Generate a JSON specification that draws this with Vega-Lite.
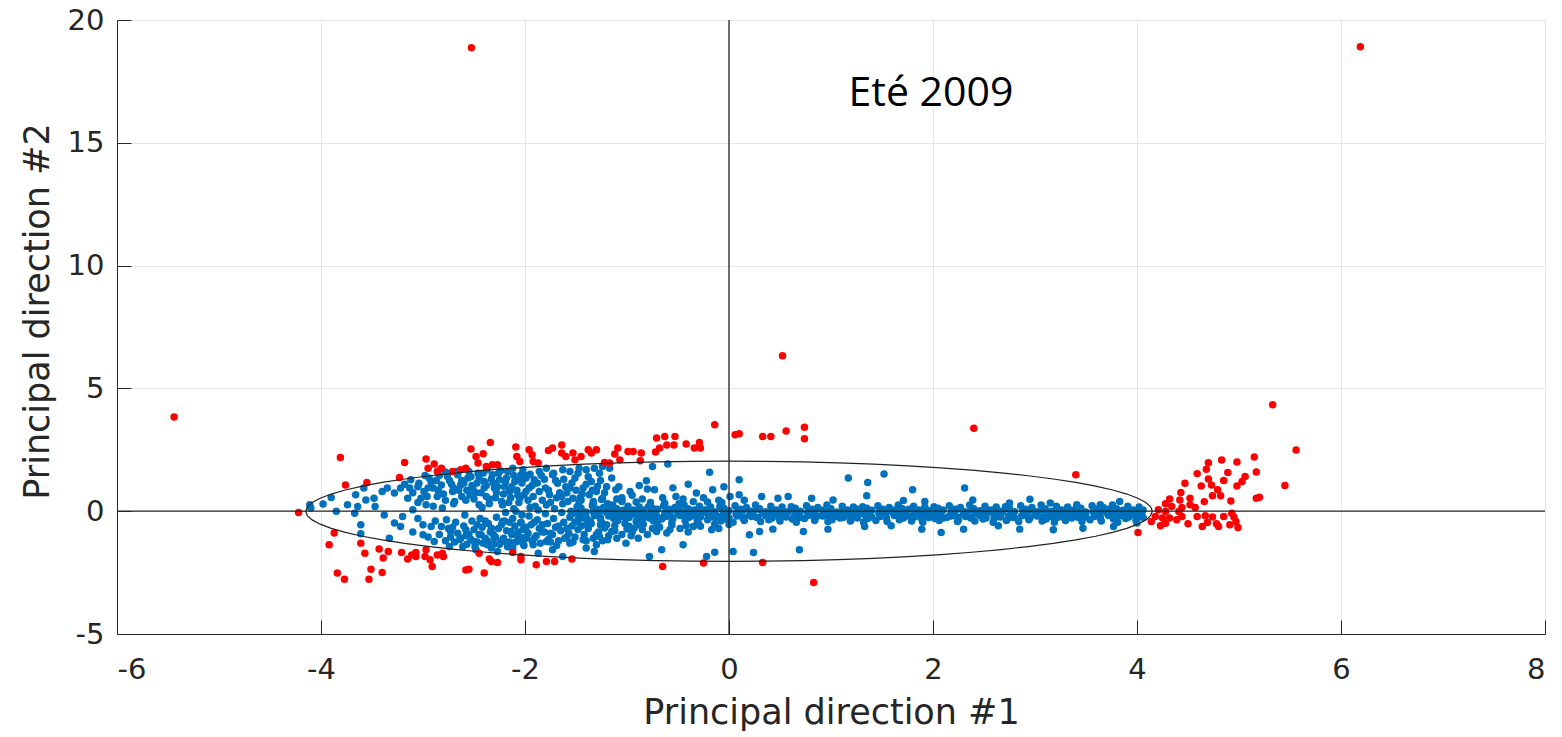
{
"$schema": "https://vega.github.io/schema/vega-lite/v6.json",
"width": 1428, "height": 614,
"autosize": "none",
"padding": {"left": 117, "top": 20, "right": 17, "bottom": 103},
"background": "white",
"config": {
 "view": {"stroke": "#262626", "strokeWidth": 1},
 "axis": {"labelFont": "DejaVu Sans", "labelFontSize": 29, "labelColor": "#262626", "titleFont": "DejaVu Sans", "titleFontSize": 35, "titleFontWeight": "normal", "titleColor": "#262626", "gridColor": "#e6e6e6", "gridWidth": 1, "domainColor": "#262626", "tickColor": "#262626", "tickSize": -14, "labelExpr": "replace(datum.label, '\u2212', '-')"}
},
"datasets": {
"blue": [
{"x":-4.11,"y":0.26},{"x":-4.10,"y":0.13},{"x":-3.98,"y":0.29},{"x":-3.90,"y":0.56},{"x":-3.85,"y":0.00},{"x":-3.74,"y":0.26},{"x":-3.67,"y":-0.08},{"x":-3.64,"y":0.19},{"x":-3.61,"y":-0.55},{"x":-3.61,"y":-0.92},{"x":-3.66,"y":0.67},{"x":-3.58,"y":0.94},{"x":-3.56,"y":0.46},{"x":-3.48,"y":0.53},{"x":-3.47,"y":0.19},{"x":-3.40,"y":0.80},{"x":-3.38,"y":-0.15},{"x":-3.33,"y":-1.10},{"x":-3.35,"y":0.94},{"x":-3.28,"y":0.74},{"x":-3.28,"y":-0.48},{"x":-3.22,"y":-0.62},{"x":-3.20,"y":-0.22},{"x":-3.22,"y":0.94},{"x":-3.15,"y":0.53},{"x":-3.13,"y":0.94},{"x":-3.12,"y":1.28},{"x":-3.04,"y":1.14},{"x":-3.10,"y":0.06},{"x":-3.02,"y":0.53},{"x":-2.99,"y":0.80},{"x":-2.97,"y":0.26},{"x":-3.00,"y":-0.55},{"x":-3.00,"y":-0.96},{"x":-2.92,"y":-0.62},{"x":-2.89,"y":-1.23},{"x":-2.94,"y":1.35},{"x":-2.90,"y":0.94},{"x":-2.86,"y":0.60},{"x":-2.82,"y":1.07},{"x":-2.82,"y":-0.62},{"x":-2.81,"y":0.13},{"x":-2.76,"y":1.41},{"x":-2.74,"y":-1.44},{"x":-2.73,"y":-0.83},{"x":-2.71,"y":0.80},{"x":-2.69,"y":0.40},{"x":-2.66,"y":1.48},{"x":-2.63,"y":1.07},{"x":-2.63,"y":-1.10},{"x":-2.61,"y":-1.44},{"x":-2.59,"y":-0.15},{"x":-2.58,"y":-0.76},{"x":-2.56,"y":1.35},{"x":-2.54,"y":0.67},{"x":-2.51,"y":0.94},{"x":-2.50,"y":-1.23},{"x":-2.48,"y":-1.57},{"x":-2.46,"y":1.55},{"x":-2.45,"y":0.26},{"x":-2.43,"y":-0.96},{"x":-2.40,"y":1.21},{"x":-2.38,"y":0.60},{"x":-2.37,"y":-1.37},{"x":-2.33,"y":-0.69},{"x":-2.32,"y":1.48},{"x":-2.30,"y":0.94},{"x":-2.30,"y":-1.10},{"x":-2.27,"y":-1.64},{"x":-2.25,"y":1.28},{"x":-2.23,"y":0.40},{"x":-2.22,"y":-0.42},{"x":-2.20,"y":-1.23},{"x":-2.17,"y":1.62},{"x":-2.15,"y":0.80},{"x":-2.14,"y":-0.83},{"x":-2.12,"y":-1.50},{"x":-2.10,"y":1.21},{"x":-2.09,"y":0.00},{"x":-2.07,"y":-1.03},{"x":-2.05,"y":0.53},{"x":-2.04,"y":1.48},{"x":-2.04,"y":-0.48},{"x":-2.02,"y":-1.30},
{"x":-2.02,"y":1.69},{"x":-1.99,"y":1.35},{"x":-1.91,"y":1.28},{"x":-1.86,"y":1.62},{"x":-1.79,"y":1.75},{"x":-1.73,"y":1.48},{"x":-1.68,"y":1.14},{"x":-1.63,"y":1.69},{"x":-1.56,"y":1.62},{"x":-1.51,"y":1.35},{"x":-1.47,"y":1.75},{"x":-1.40,"y":1.69},{"x":-1.35,"y":1.21},{"x":-1.32,"y":1.75},{"x":-1.27,"y":1.55},{"x":-1.24,"y":1.82},{"x":-1.29,"y":1.01},{"x":-1.17,"y":1.75},{"x":-1.11,"y":0.87},{"x":-0.97,"y":0.80},{"x":-0.88,"y":1.05},{"x":-0.81,"y":1.24},{"x":-0.75,"y":1.82},{"x":-0.73,"y":0.87},{"x":-0.60,"y":1.92},{"x":-0.52,"y":0.60},{"x":-0.32,"y":0.74},{"x":-0.19,"y":1.59},{"x":-0.16,"y":0.87},{"x":0.01,"y":0.60},{"x":0.10,"y":1.28},{"x":0.10,"y":0.67},
{"x":-1.86,"y":0.80},{"x":-1.76,"y":0.67},{"x":-1.64,"y":0.60},{"x":-1.56,"y":0.94},{"x":-1.53,"y":0.53},{"x":-1.43,"y":0.94},{"x":-1.37,"y":0.67},{"x":-1.30,"y":0.80},{"x":-1.24,"y":0.53},{"x":-2.01,"y":0.67},{"x":-1.96,"y":0.94},
{"x":-1.99,"y":-1.10},{"x":-1.92,"y":-1.37},{"x":-1.87,"y":-1.71},{"x":-1.79,"y":-1.23},{"x":-1.73,"y":-1.57},{"x":-1.63,"y":-1.84},{"x":-1.56,"y":-1.30},{"x":-1.43,"y":-1.16},{"x":-1.40,"y":-1.50},{"x":-1.32,"y":-1.64},{"x":-1.30,"y":-1.37},{"x":-1.27,"y":-1.03},{"x":-1.19,"y":-1.16},{"x":-1.15,"y":-0.83},{"x":-1.01,"y":-1.30},{"x":-0.89,"y":-1.10},{"x":-0.93,"y":-0.69},{"x":-0.78,"y":-1.84},{"x":-0.71,"y":-0.83},{"x":-0.66,"y":-1.57},{"x":-0.61,"y":-0.89},{"x":-0.45,"y":-1.37},{"x":-0.22,"y":-1.84},{"x":-0.14,"y":-1.67},{"x":0.04,"y":-1.64},{"x":-0.35,"y":-0.62},{"x":-0.17,"y":-0.76},{"x":0.20,"y":-0.96},{"x":0.69,"y":-1.57},{"x":0.24,"y":-1.68},{"x":1.17,"y":1.35},{"x":1.36,"y":1.17},{"x":1.52,"y":1.51},{"x":1.80,"y":0.87},{"x":2.31,"y":0.94},{"x":2.08,"y":-0.87},
{"x":0.30,"y":-0.83},{"x":0.43,"y":-0.73},{"x":0.73,"y":-0.83},{"x":0.97,"y":-0.73},{"x":1.33,"y":-0.62},{"x":1.59,"y":-0.59},{"x":1.89,"y":-0.73},{"x":0.32,"y":0.60},{"x":0.48,"y":0.53},{"x":0.58,"y":0.60},{"x":0.81,"y":0.53},{"x":1.02,"y":0.46},{"x":1.35,"y":0.63},{"x":1.71,"y":0.44},{"x":1.92,"y":0.40},{"x":2.39,"y":0.46},{"x":2.75,"y":0.33},{"x":2.95,"y":0.49},{"x":3.15,"y":0.33},{"x":3.41,"y":0.26},{"x":3.64,"y":0.26},{"x":3.83,"y":0.40},{"x":2.30,"y":-0.73},{"x":2.64,"y":-0.59},{"x":2.85,"y":-0.73},{"x":3.18,"y":-0.76},{"x":3.47,"y":-0.69},{"x":3.77,"y":-0.62},{"x":4.00,"y":-0.48},
{"x":-3.18,"y":1.10},{"x":-3.10,"y":0.75},{"x":-3.05,"y":0.35},{"x":-2.98,"y":1.45},{"x":-2.95,"y":0.95},{"x":-2.90,"y":0.20},{"x":-2.87,"y":1.25},{"x":-2.80,"y":0.70},{"x":-2.78,"y":1.60},{"x":-2.72,"y":1.10},{"x":-2.70,"y":0.30},{"x":-2.65,"y":0.85},{"x":-2.62,"y":1.25},{"x":-2.58,"y":0.45},{"x":-2.55,"y":1.62},{"x":-2.52,"y":1.05},{"x":-2.48,"y":0.75},{"x":-2.45,"y":1.35},{"x":-2.42,"y":0.15},{"x":-2.40,"y":0.95},{"x":-2.37,"y":1.70},{"x":-2.35,"y":0.50},{"x":-2.31,"y":1.15},{"x":-2.28,"y":0.75},{"x":-2.26,"y":1.55},{"x":-2.22,"y":0.25},{"x":-2.20,"y":1.00},{"x":-2.18,"y":1.35},{"x":-2.14,"y":0.55},{"x":-2.12,"y":1.75},{"x":-2.08,"y":0.85},{"x":-2.06,"y":0.35},{"x":-2.03,"y":1.15},{"x":-2.00,"y":1.45},{"x":-1.97,"y":0.45},{"x":-1.93,"y":1.05},{"x":-1.90,"y":0.20},{"x":-1.84,"y":1.45},{"x":-1.80,"y":0.95},{"x":-1.75,"y":0.35},{"x":-1.70,"y":1.25},{"x":-1.66,"y":0.75},{"x":-1.60,"y":1.00},{"x":-1.58,"y":0.40},{"x":-1.50,"y":0.85},{"x":-1.45,"y":0.45},{"x":-1.40,"y":1.10},{"x":-1.33,"y":0.40},{"x":-1.20,"y":1.00},{"x":-1.10,"y":0.50},{"x":-1.05,"y":0.45},
{"x":-3.05,"y":1.00},{"x":-2.96,"y":0.60},{"x":-2.92,"y":1.20},{"x":-2.85,"y":0.85},{"x":-2.84,"y":1.45},{"x":-2.78,"y":0.45},{"x":-2.74,"y":1.25},{"x":-2.70,"y":0.95},{"x":-2.67,"y":1.62},{"x":-2.62,"y":0.60},{"x":-2.60,"y":1.15},{"x":-2.57,"y":0.85},{"x":-2.53,"y":1.40},{"x":-2.50,"y":0.50},{"x":-2.47,"y":1.15},{"x":-2.43,"y":0.75},{"x":-2.41,"y":1.55},{"x":-2.38,"y":1.05},{"x":-2.35,"y":0.30},{"x":-2.33,"y":1.30},{"x":-2.29,"y":0.55},{"x":-2.27,"y":1.00},{"x":-2.24,"y":1.65},{"x":-2.21,"y":0.70},{"x":-2.19,"y":1.20},{"x":-2.16,"y":0.35},{"x":-2.13,"y":1.00},{"x":-2.11,"y":1.45},{"x":-2.07,"y":0.65},{"x":-2.05,"y":1.30},{"x":-1.99,"y":0.80},{"x":-1.95,"y":1.50},{"x":-1.92,"y":0.60},{"x":-1.88,"y":1.15},{"x":-1.83,"y":0.45},{"x":-1.81,"y":1.30},{"x":-1.77,"y":0.85},{"x":-1.72,"y":1.55},{"x":-1.69,"y":0.55},{"x":-1.62,"y":1.30},{"x":-1.59,"y":0.75},{"x":-1.54,"y":1.15},{"x":-1.48,"y":1.55},{"x":-1.44,"y":0.70},{"x":-1.38,"y":1.40},{"x":-1.34,"y":0.85},{"x":-1.26,"y":1.25},{"x":-1.22,"y":0.75},{"x":-1.15,"y":1.35},{"x":-1.08,"y":1.00},
{"x":-3.10,"y":-0.85},{"x":-3.05,"y":-0.30},{"x":-2.95,"y":-1.05},{"x":-2.88,"y":-0.40},{"x":-2.84,"y":-0.95},{"x":-2.78,"y":-1.20},{"x":-2.77,"y":-0.35},{"x":-2.71,"y":-0.65},{"x":-2.64,"y":-1.15},{"x":-2.55,"y":-0.95},{"x":-2.47,"y":-1.25},{"x":-2.39,"y":-0.40},{"x":-2.31,"y":-1.35},{"x":-2.23,"y":-1.20},{"x":-2.15,"y":-0.45},{"x":-2.07,"y":-1.20},{"x":-1.99,"y":-0.65},{"x":-1.91,"y":-1.10},{"x":-1.83,"y":-0.55},{"x":-1.75,"y":-0.90},{"x":-1.67,"y":-1.20},{"x":-1.59,"y":-0.70},{"x":-1.51,"y":-1.05},{"x":-1.45,"y":-0.60},{"x":-1.40,"y":-1.20},{"x":-1.35,"y":-0.50},{"x":-1.30,"y":-0.95},{"x":-1.24,"y":-1.20},{"x":-1.20,"y":-0.55},{"x":-1.10,"y":-1.10},{"x":-1.02,"y":-0.50},{"x":-0.96,"y":-1.00},{"x":-0.88,"y":-0.55},{"x":-0.80,"y":-0.95},{"x":-0.68,"y":-0.65},{"x":-0.58,"y":-0.75},{"x":-0.48,"y":-0.70},{"x":-0.40,"y":-0.85},{"x":-0.30,"y":-0.50},{"x":-0.10,"y":-0.70},
{"x":-0.95,"y":0.65},{"x":-0.80,"y":0.90},{"x":-0.65,"y":0.55},{"x":-0.55,"y":0.95},{"x":-0.45,"y":0.50},{"x":-0.40,"y":1.10},{"x":-0.25,"y":0.55},{"x":-0.10,"y":0.45},{"x":-0.05,"y":1.00},{"x":0.15,"y":0.45},
{"x":-2.75,"y":-0.70},{"x":-2.73,"y":-1.05},{"x":-2.68,"y":-0.45},{"x":-2.66,"y":-0.90},{"x":-2.69,"y":-1.25},{"x":-2.60,"y":-0.60},{"x":-2.58,"y":-1.00},{"x":-2.57,"y":-1.35},{"x":-2.52,"y":-0.40},{"x":-2.50,"y":-0.75},{"x":-2.53,"y":-1.15},{"x":-2.49,"y":-1.45},{"x":-2.44,"y":-0.30},{"x":-2.42,"y":-0.65},{"x":-2.45,"y":-0.95},{"x":-2.41,"y":-1.30},{"x":-2.36,"y":-0.50},{"x":-2.34,"y":-0.85},{"x":-2.37,"y":-1.20},{"x":-2.33,"y":-1.50},{"x":-2.28,"y":-0.25},{"x":-2.26,"y":-0.70},{"x":-2.29,"y":-1.05},{"x":-2.25,"y":-1.35},{"x":-2.20,"y":-0.40},{"x":-2.18,"y":-0.80},{"x":-2.21,"y":-1.10},{"x":-2.17,"y":-1.45},{"x":-2.19,"y":-0.05},{"x":-2.12,"y":-0.30},{"x":-2.10,"y":-0.60},{"x":-2.13,"y":-0.95},{"x":-2.09,"y":-1.25},{"x":-2.11,"y":0.10},{"x":-2.04,"y":-0.45},{"x":-2.02,"y":-0.75},{"x":-2.05,"y":-1.05},{"x":-2.01,"y":-1.40},{"x":-2.03,"y":-0.15},{"x":-1.96,"y":-0.20},{"x":-1.94,"y":-0.55},{"x":-1.97,"y":-0.90},{"x":-1.93,"y":-1.20},{"x":-1.95,"y":0.15},{"x":-1.88,"y":-0.35},{"x":-1.86,"y":-0.70},{"x":-1.89,"y":-1.00},{"x":-1.85,"y":-1.30},{"x":-1.87,"y":0.05},{"x":-1.80,"y":-0.10},{"x":-1.78,"y":-0.50},{"x":-1.81,"y":-0.85},{"x":-1.77,"y":-1.15},{"x":-1.79,"y":0.25},{"x":-1.72,"y":-0.30},{"x":-1.70,"y":-0.65},{"x":-1.73,"y":-0.95},{"x":-1.69,"y":-1.40},{"x":-1.71,"y":0.10},{"x":-1.64,"y":-0.05},{"x":-1.62,"y":-0.45},{"x":-1.65,"y":-0.80},{"x":-1.61,"y":-1.10},{"x":-1.63,"y":0.30},{"x":-1.56,"y":-0.25},{"x":-1.54,"y":-0.60},{"x":-1.57,"y":-0.90},{"x":-1.53,"y":-1.25},{"x":-1.55,"y":0.00},
{"x":-2.31,"y":-0.95},{"x":-2.23,"y":-0.55},{"x":-2.15,"y":-1.25},{"x":-2.07,"y":-0.85},{"x":-1.99,"y":-1.05},{"x":-1.91,"y":-0.45},{"x":-1.83,"y":-0.85},{"x":-1.75,"y":-1.25},{"x":-1.67,"y":-0.60},{"x":-1.59,"y":-1.05},{"x":-1.51,"y":-0.45},{"x":-2.39,"y":-1.10},{"x":-2.47,"y":-0.55},
{"x":-1.48,"y":-0.75},{"x":-1.42,"y":-0.95},{"x":-1.38,"y":-0.70},{"x":-1.33,"y":-1.10},{"x":-1.28,"y":-0.85},{"x":-1.22,"y":-0.68},{"x":-1.18,"y":-1.00},{"x":-1.12,"y":-0.80},{"x":-1.05,"y":-0.95},{"x":-1.00,"y":-0.72},{"x":-0.95,"y":-0.85},{"x":-0.85,"y":-0.75},{"x":-0.75,"y":-0.70},{"x":-1.46,"y":0.55},{"x":-1.25,"y":0.48},{"x":-1.05,"y":0.55},{"x":-0.85,"y":0.50},
{"x":-1.47,"y":0.35},{"x":-1.40,"y":-0.54},{"x":-1.33,"y":0.32},{"x":-1.26,"y":-0.56},{"x":-1.19,"y":0.30},{"x":-1.12,"y":-0.58},{"x":-1.05,"y":0.39},{"x":-0.98,"y":-0.61},{"x":-0.91,"y":0.37},{"x":-0.84,"y":-0.53},{"x":-0.77,"y":0.35},{"x":-0.70,"y":-0.54},{"x":-0.63,"y":0.32},{"x":-0.56,"y":-0.56},{"x":-0.49,"y":0.30},{"x":-0.42,"y":-0.58},{"x":-0.35,"y":0.39},{"x":-0.28,"y":-0.61},{"x":-0.21,"y":0.37},{"x":-0.14,"y":-0.53},{"x":-0.07,"y":0.35},{"x":0.00,"y":-0.54},
{"x":-1.49,"y":0.18},{"x":-1.52,"y":-0.08},{"x":-1.48,"y":-0.35},{"x":-1.45,"y":0.12},{"x":-1.42,"y":-0.12},{"x":-1.44,"y":-0.28},{"x":-1.34,"y":0.22},{"x":-1.33,"y":-0.02},{"x":-1.36,"y":-0.40},{"x":-1.29,"y":0.08},{"x":-1.30,"y":-0.15},{"x":-1.26,"y":-0.32},{"x":-1.23,"y":0.15},{"x":-1.20,"y":-0.05},{"x":-1.25,"y":-0.45},{"x":-1.14,"y":0.25},{"x":-1.17,"y":-0.10},{"x":-1.13,"y":-0.30},{"x":-1.10,"y":0.10},{"x":-1.07,"y":-0.18},{"x":-1.09,"y":-0.38},{"x":-0.99,"y":0.20},{"x":-0.98,"y":-0.08},{"x":-1.01,"y":-0.25},{"x":-0.94,"y":0.05},{"x":-0.95,"y":-0.12},{"x":-0.91,"y":-0.42},{"x":-0.88,"y":0.17},{"x":-0.85,"y":-0.02},{"x":-0.90,"y":-0.35},
{"x":-0.79,"y":0.18},{"x":-0.82,"y":-0.15},{"x":-0.78,"y":-0.28},{"x":-0.75,"y":0.12},{"x":-0.72,"y":-0.05},{"x":-0.74,"y":-0.40},{"x":-0.64,"y":0.22},{"x":-0.63,"y":-0.10},{"x":-0.66,"y":-0.32},{"x":-0.59,"y":0.08},{"x":-0.60,"y":-0.18},{"x":-0.56,"y":-0.45},{"x":-0.53,"y":0.15},{"x":-0.50,"y":-0.08},{"x":-0.55,"y":-0.30},{"x":-0.44,"y":0.25},{"x":-0.47,"y":-0.12},{"x":-0.43,"y":-0.38},{"x":-0.40,"y":0.10},{"x":-0.37,"y":-0.02},{"x":-0.39,"y":-0.25},{"x":-0.29,"y":0.20},{"x":-0.28,"y":-0.15},{"x":-0.31,"y":-0.42},{"x":-0.24,"y":0.05},{"x":-0.25,"y":-0.05},{"x":-0.21,"y":-0.35},{"x":-0.18,"y":0.17},{"x":-0.15,"y":-0.10},{"x":-0.20,"y":-0.28},
{"x":-0.09,"y":0.18},{"x":-0.12,"y":-0.18},{"x":-0.08,"y":-0.40},{"x":-0.05,"y":0.12},{"x":-0.02,"y":-0.08},{"x":-0.04,"y":-0.32},{"x":0.06,"y":0.22},{"x":0.07,"y":-0.12},{"x":0.04,"y":-0.45},{"x":0.11,"y":0.08},{"x":0.10,"y":-0.02},{"x":0.14,"y":-0.30},{"x":0.17,"y":0.15},{"x":0.20,"y":-0.15},{"x":0.15,"y":-0.38},{"x":0.26,"y":0.25},{"x":0.23,"y":-0.05},{"x":0.27,"y":-0.25},{"x":0.30,"y":0.10},{"x":0.33,"y":-0.10},{"x":0.31,"y":-0.42},{"x":0.41,"y":0.20},{"x":0.42,"y":-0.18},{"x":0.39,"y":-0.35},{"x":0.46,"y":0.05},{"x":0.45,"y":-0.08},{"x":0.49,"y":-0.28},{"x":0.52,"y":0.17},{"x":0.55,"y":-0.12},{"x":0.50,"y":-0.40},
{"x":0.61,"y":0.18},{"x":0.58,"y":-0.02},{"x":0.62,"y":-0.32},{"x":0.65,"y":0.12},{"x":0.68,"y":-0.15},{"x":0.66,"y":-0.45},{"x":0.76,"y":0.22},{"x":0.77,"y":-0.05},{"x":0.74,"y":-0.30},{"x":0.81,"y":0.08},{"x":0.80,"y":-0.10},{"x":0.84,"y":-0.38},{"x":0.87,"y":0.15},{"x":0.90,"y":-0.18},{"x":0.85,"y":-0.25},{"x":0.96,"y":0.25},{"x":0.93,"y":-0.08},{"x":0.97,"y":-0.42},{"x":1.00,"y":0.10},{"x":1.03,"y":-0.12},{"x":1.01,"y":-0.35},{"x":1.11,"y":0.20},{"x":1.12,"y":-0.02},{"x":1.09,"y":-0.28},{"x":1.16,"y":0.05},{"x":1.15,"y":-0.15},{"x":1.19,"y":-0.40},{"x":1.22,"y":0.17},{"x":1.25,"y":-0.05},{"x":1.20,"y":-0.32},
{"x":1.31,"y":0.18},{"x":1.28,"y":-0.10},{"x":1.32,"y":-0.45},{"x":1.35,"y":0.12},{"x":1.38,"y":-0.18},{"x":1.36,"y":-0.30},{"x":1.46,"y":0.22},{"x":1.47,"y":-0.08},{"x":1.44,"y":-0.38},{"x":1.51,"y":0.08},{"x":1.50,"y":-0.12},{"x":1.54,"y":-0.25},{"x":1.57,"y":0.15},{"x":1.60,"y":-0.02},{"x":1.55,"y":-0.42},{"x":1.66,"y":0.25},{"x":1.63,"y":-0.15},{"x":1.67,"y":-0.35},{"x":1.70,"y":0.10},{"x":1.73,"y":-0.05},{"x":1.71,"y":-0.28},{"x":1.81,"y":0.20},{"x":1.82,"y":-0.10},{"x":1.79,"y":-0.40},{"x":1.86,"y":0.05},{"x":1.85,"y":-0.18},{"x":1.89,"y":-0.32},{"x":1.92,"y":0.17},{"x":1.95,"y":-0.08},{"x":1.90,"y":-0.45},
{"x":2.01,"y":0.18},{"x":1.98,"y":-0.12},{"x":2.02,"y":-0.30},{"x":2.05,"y":0.12},{"x":2.08,"y":-0.02},{"x":2.06,"y":-0.38},{"x":2.16,"y":0.22},{"x":2.17,"y":-0.15},{"x":2.14,"y":-0.25},{"x":2.21,"y":0.08},{"x":2.20,"y":-0.05},{"x":2.24,"y":-0.42},{"x":2.27,"y":0.15},{"x":2.30,"y":-0.10},{"x":2.25,"y":-0.35},{"x":2.36,"y":0.25},{"x":2.33,"y":-0.18},{"x":2.37,"y":-0.28},{"x":2.40,"y":0.10},{"x":2.43,"y":-0.08},{"x":2.41,"y":-0.40},{"x":2.51,"y":0.20},{"x":2.52,"y":-0.12},{"x":2.49,"y":-0.32},{"x":2.56,"y":0.05},{"x":2.55,"y":-0.02},{"x":2.59,"y":-0.45},{"x":2.62,"y":0.17},{"x":2.65,"y":-0.15},{"x":2.60,"y":-0.30},
{"x":2.71,"y":0.18},{"x":2.68,"y":-0.05},{"x":2.72,"y":-0.38},{"x":2.75,"y":0.12},{"x":2.78,"y":-0.10},{"x":2.76,"y":-0.25},{"x":2.86,"y":0.22},{"x":2.87,"y":-0.18},{"x":2.84,"y":-0.42},{"x":2.91,"y":0.08},{"x":2.90,"y":-0.08},{"x":2.94,"y":-0.35},{"x":2.97,"y":0.15},{"x":3.00,"y":-0.12},{"x":2.95,"y":-0.28},{"x":3.06,"y":0.25},{"x":3.03,"y":-0.02},{"x":3.07,"y":-0.40},{"x":3.10,"y":0.10},{"x":3.13,"y":-0.15},{"x":3.11,"y":-0.32},{"x":3.21,"y":0.20},{"x":3.22,"y":-0.05},{"x":3.19,"y":-0.45},{"x":3.26,"y":0.05},{"x":3.25,"y":-0.10},{"x":3.29,"y":-0.30},{"x":3.32,"y":0.17},{"x":3.35,"y":-0.18},{"x":3.30,"y":-0.38},
{"x":3.41,"y":0.18},{"x":3.38,"y":-0.08},{"x":3.42,"y":-0.25},{"x":3.45,"y":0.12},{"x":3.48,"y":-0.12},{"x":3.46,"y":-0.42},{"x":3.56,"y":0.22},{"x":3.57,"y":-0.02},{"x":3.54,"y":-0.35},{"x":3.61,"y":0.08},{"x":3.60,"y":-0.15},{"x":3.64,"y":-0.28},{"x":3.67,"y":0.15},{"x":3.70,"y":-0.05},{"x":3.65,"y":-0.40},{"x":3.76,"y":0.25},{"x":3.73,"y":-0.10},{"x":3.77,"y":-0.32},{"x":3.80,"y":0.10},{"x":3.83,"y":-0.18},{"x":3.81,"y":-0.45},{"x":3.91,"y":0.20},{"x":3.92,"y":-0.08},{"x":3.89,"y":-0.30},{"x":3.96,"y":0.05},{"x":3.95,"y":-0.12},{"x":3.99,"y":-0.38},{"x":4.02,"y":0.17},{"x":4.05,"y":-0.02},{"x":4.00,"y":-0.25},
{"x":-1.46,"y":0.02},{"x":-1.46,"y":-0.22},{"x":-1.40,"y":-0.03},{"x":-1.40,"y":-0.26},{"x":-1.32,"y":0.05},{"x":-1.32,"y":-0.18},{"x":-1.26,"y":0.00},{"x":-1.26,"y":-0.28},{"x":-1.18,"y":0.08},{"x":-1.18,"y":-0.20},{"x":-1.12,"y":-0.02},{"x":-1.12,"y":-0.24},{"x":-1.04,"y":0.04},{"x":-1.04,"y":-0.22},{"x":-0.98,"y":0.02},{"x":-0.98,"y":-0.26},{"x":-0.90,"y":-0.03},{"x":-0.90,"y":-0.18},{"x":-0.84,"y":0.05},{"x":-0.84,"y":-0.28},{"x":-0.76,"y":0.00},{"x":-0.76,"y":-0.20},{"x":-0.70,"y":0.08},{"x":-0.70,"y":-0.24},{"x":-0.62,"y":-0.02},{"x":-0.62,"y":-0.22},{"x":-0.56,"y":0.04},{"x":-0.56,"y":-0.26},{"x":-0.48,"y":0.02},{"x":-0.48,"y":-0.18},{"x":-0.42,"y":-0.03},{"x":-0.42,"y":-0.28},{"x":-0.34,"y":0.05},{"x":-0.34,"y":-0.20},{"x":-0.28,"y":0.00},{"x":-0.28,"y":-0.24},{"x":-0.20,"y":0.08},{"x":-0.20,"y":-0.22},{"x":-0.14,"y":-0.02},{"x":-0.14,"y":-0.26},
{"x":-0.06,"y":0.04},{"x":-0.06,"y":-0.18},{"x":0.00,"y":0.02},{"x":0.00,"y":-0.28},{"x":0.08,"y":-0.03},{"x":0.08,"y":-0.20},{"x":0.14,"y":0.05},{"x":0.14,"y":-0.24},{"x":0.22,"y":0.00},{"x":0.22,"y":-0.22},{"x":0.28,"y":0.08},{"x":0.28,"y":-0.26},{"x":0.36,"y":-0.02},{"x":0.36,"y":-0.18},{"x":0.42,"y":0.04},{"x":0.42,"y":-0.28},{"x":0.50,"y":0.02},{"x":0.50,"y":-0.20},{"x":0.56,"y":-0.03},{"x":0.56,"y":-0.24},{"x":0.64,"y":0.05},{"x":0.64,"y":-0.22},{"x":0.70,"y":0.00},{"x":0.70,"y":-0.26},{"x":0.78,"y":0.08},{"x":0.78,"y":-0.18},{"x":0.84,"y":-0.02},{"x":0.84,"y":-0.28},{"x":0.92,"y":0.04},{"x":0.92,"y":-0.20},{"x":0.98,"y":0.02},{"x":0.98,"y":-0.24},{"x":1.06,"y":-0.03},{"x":1.06,"y":-0.22},{"x":1.12,"y":0.05},{"x":1.12,"y":-0.26},{"x":1.20,"y":0.00},{"x":1.20,"y":-0.18},{"x":1.26,"y":0.08},{"x":1.26,"y":-0.28},
{"x":1.34,"y":-0.02},{"x":1.34,"y":-0.20},{"x":1.40,"y":0.04},{"x":1.40,"y":-0.24},{"x":1.48,"y":0.02},{"x":1.48,"y":-0.22},{"x":1.54,"y":-0.03},{"x":1.54,"y":-0.26},{"x":1.62,"y":0.05},{"x":1.62,"y":-0.18},{"x":1.68,"y":0.00},{"x":1.68,"y":-0.28},{"x":1.76,"y":0.08},{"x":1.76,"y":-0.20},{"x":1.82,"y":-0.02},{"x":1.82,"y":-0.24},{"x":1.90,"y":0.04},{"x":1.90,"y":-0.22},{"x":1.96,"y":0.02},{"x":1.96,"y":-0.26},{"x":2.04,"y":-0.03},{"x":2.04,"y":-0.18},{"x":2.10,"y":0.05},{"x":2.10,"y":-0.28},{"x":2.18,"y":0.00},{"x":2.18,"y":-0.20},{"x":2.24,"y":0.08},{"x":2.24,"y":-0.24},{"x":2.32,"y":-0.02},{"x":2.32,"y":-0.22},{"x":2.38,"y":0.04},{"x":2.38,"y":-0.26},{"x":2.46,"y":0.02},{"x":2.46,"y":-0.18},{"x":2.52,"y":-0.03},{"x":2.52,"y":-0.28},{"x":2.60,"y":0.05},{"x":2.60,"y":-0.20},{"x":2.66,"y":0.00},{"x":2.66,"y":-0.24},
{"x":2.74,"y":0.08},{"x":2.74,"y":-0.22},{"x":2.80,"y":-0.02},{"x":2.80,"y":-0.26},{"x":2.88,"y":0.04},{"x":2.88,"y":-0.18},{"x":2.94,"y":0.02},{"x":2.94,"y":-0.28},{"x":3.02,"y":-0.03},{"x":3.02,"y":-0.20},{"x":3.08,"y":0.05},{"x":3.08,"y":-0.24},{"x":3.16,"y":0.00},{"x":3.16,"y":-0.22},{"x":3.22,"y":0.08},{"x":3.22,"y":-0.26},{"x":3.30,"y":-0.02},{"x":3.30,"y":-0.18},{"x":3.36,"y":0.04},{"x":3.36,"y":-0.28},{"x":3.44,"y":0.02},{"x":3.44,"y":-0.20},{"x":3.50,"y":-0.03},{"x":3.50,"y":-0.24},{"x":3.58,"y":0.05},{"x":3.58,"y":-0.22},{"x":3.64,"y":0.00},{"x":3.64,"y":-0.26},{"x":3.72,"y":0.08},{"x":3.72,"y":-0.18},{"x":3.78,"y":-0.02},{"x":3.78,"y":-0.28},{"x":3.86,"y":0.04},{"x":3.86,"y":-0.20},{"x":3.92,"y":0.02},{"x":3.92,"y":-0.24},{"x":4.00,"y":-0.03},{"x":4.00,"y":-0.22},{"x":4.06,"y":0.05},{"x":4.06,"y":-0.26}
],
"red": [
{"x":-2.525,"y":18.87},{"x":6.19,"y":18.91},{"x":-5.44,"y":3.84},{"x":0.525,"y":6.33},{"x":2.40,"y":3.38},{"x":3.40,"y":1.48},{"x":0.83,"y":-2.90},{"x":4.01,"y":-0.87},{"x":0.33,"y":-2.09},
{"x":-3.81,"y":2.19},{"x":-3.76,"y":1.07},{"x":-3.55,"y":1.17},{"x":-3.18,"y":1.98},{"x":-3.23,"y":1.37},{"x":-2.97,"y":2.13},{"x":-2.89,"y":1.92},{"x":-2.95,"y":1.75},{"x":-2.86,"y":1.62},{"x":-2.82,"y":1.75},{"x":-2.71,"y":1.62},{"x":-2.63,"y":1.69},{"x":-2.58,"y":1.75},{"x":-2.53,"y":2.53},{"x":-2.48,"y":2.23},{"x":-2.46,"y":1.96},{"x":-2.41,"y":2.34},{"x":-2.34,"y":2.80},{"x":-2.38,"y":1.82},{"x":-2.32,"y":1.89},{"x":-2.27,"y":1.89},{"x":-2.09,"y":2.61},{"x":-2.08,"y":2.23},{"x":-2.05,"y":2.02},{"x":-1.96,"y":2.50},{"x":-1.93,"y":2.30},{"x":-1.92,"y":2.02},{"x":-1.87,"y":1.96},{"x":-1.77,"y":2.47},{"x":-1.73,"y":2.57},{"x":-1.64,"y":2.70},{"x":-1.64,"y":2.37},{"x":-1.60,"y":2.23},{"x":-1.53,"y":2.37},{"x":-1.51,"y":2.09},{"x":-1.45,"y":2.23},{"x":-1.38,"y":2.50},{"x":-1.35,"y":2.37},{"x":-1.30,"y":2.50},{"x":-1.22,"y":1.98},{"x":-1.17,"y":1.96},{"x":-1.12,"y":2.33},{"x":-1.09,"y":2.57},{"x":-1.07,"y":2.09},{"x":-0.99,"y":2.43},{"x":-0.94,"y":2.43},{"x":-0.87,"y":2.05},{"x":-0.86,"y":2.37},{"x":-0.71,"y":2.98},{"x":-0.72,"y":2.41},{"x":-0.68,"y":2.57},{"x":-0.63,"y":3.04},{"x":-0.61,"y":2.70},{"x":-0.53,"y":3.04},{"x":-0.54,"y":2.70},{"x":-0.42,"y":2.74},{"x":-0.34,"y":2.57},{"x":-0.29,"y":2.80},{"x":-0.28,"y":2.57},{"x":-0.14,"y":3.52},{"x":0.06,"y":3.11},{"x":0.10,"y":3.15},{"x":0.33,"y":3.04},{"x":0.41,"y":3.04},{"x":0.56,"y":3.27},{"x":0.74,"y":3.42},{"x":0.74,"y":2.95},
{"x":-4.22,"y":-0.05},{"x":-3.87,"y":-0.89},{"x":-3.92,"y":-1.37},{"x":-3.84,"y":-2.52},{"x":-3.77,"y":-2.77},{"x":-3.61,"y":-1.30},{"x":-3.57,"y":-1.71},{"x":-3.51,"y":-2.36},{"x":-3.53,"y":-2.77},{"x":-3.40,"y":-2.50},{"x":-3.43,"y":-1.54},{"x":-3.34,"y":-1.64},{"x":-3.39,"y":-1.91},{"x":-3.21,"y":-1.68},{"x":-3.15,"y":-1.95},{"x":-3.11,"y":-1.78},{"x":-3.07,"y":-1.84},{"x":-3.07,"y":-1.68},{"x":-2.97,"y":-1.57},{"x":-2.98,"y":-1.84},{"x":-2.93,"y":-1.98},{"x":-2.91,"y":-2.25},{"x":-2.86,"y":-1.78},{"x":-2.81,"y":-1.71},{"x":-2.80,"y":-1.84},{"x":-2.55,"y":-2.36},{"x":-2.58,"y":-2.39},{"x":-2.45,"y":-1.71},{"x":-2.40,"y":-2.52},{"x":-2.35,"y":-1.95},{"x":-2.33,"y":-2.05},{"x":-2.27,"y":-2.09},{"x":-2.12,"y":-1.68},{"x":-2.04,"y":-1.84},{"x":-2.04,"y":-1.98},{"x":-1.89,"y":-2.18},{"x":-1.79,"y":-2.05},{"x":-1.71,"y":-2.05},{"x":-1.54,"y":-1.95},{"x":-0.65,"y":-2.25},{"x":-0.25,"y":-2.11},
{"x":5.33,"y":4.33},{"x":5.56,"y":2.49},{"x":5.45,"y":1.05},{"x":5.15,"y":2.21},{"x":4.98,"y":2.00},{"x":4.83,"y":2.08},{"x":4.70,"y":1.97},{"x":4.68,"y":1.71},{"x":4.59,"y":1.53},{"x":4.89,"y":1.58},{"x":5.17,"y":1.60},{"x":5.06,"y":1.41},{"x":4.70,"y":1.31},{"x":4.85,"y":1.25},{"x":5.03,"y":1.21},{"x":4.73,"y":1.07},{"x":4.63,"y":1.03},{"x":4.98,"y":1.03},{"x":4.79,"y":0.87},{"x":4.47,"y":1.14},{"x":4.43,"y":0.76},{"x":4.74,"y":0.63},{"x":4.82,"y":0.63},{"x":4.52,"y":0.53},{"x":4.42,"y":0.46},{"x":4.32,"y":0.50},{"x":4.66,"y":0.39},{"x":4.92,"y":0.42},{"x":5.17,"y":0.53},{"x":5.20,"y":0.57},{"x":4.28,"y":0.30},{"x":4.34,"y":0.19},{"x":4.44,"y":0.15},{"x":4.52,"y":0.26},{"x":4.57,"y":0.15},{"x":4.21,"y":0.06},{"x":4.28,"y":-0.01},{"x":4.41,"y":-0.01},{"x":4.93,"y":-0.08},{"x":4.18,"y":-0.22},{"x":4.25,"y":-0.28},{"x":4.32,"y":-0.28},{"x":4.44,"y":-0.22},{"x":4.59,"y":-0.22},{"x":4.67,"y":-0.19},{"x":4.74,"y":-0.24},{"x":4.85,"y":-0.22},{"x":4.95,"y":-0.24},{"x":4.14,"y":-0.42},{"x":4.23,"y":-0.59},{"x":4.28,"y":-0.49},{"x":4.39,"y":-0.35},{"x":4.50,"y":-0.51},{"x":4.64,"y":-0.62},{"x":4.69,"y":-0.46},{"x":4.78,"y":-0.51},{"x":4.80,"y":-0.62},{"x":4.91,"y":-0.55},{"x":4.97,"y":-0.42},{"x":4.99,"y":-0.66}
],
"ellipse": [
{"i":0,"x":4.15,"y":0},{"i":1,"x":4.134,"y":0.178},{"i":2,"x":4.087,"y":0.354},{"i":3,"x":4.008,"y":0.528},{"i":4,"x":3.9,"y":0.698},{"i":5,"x":3.761,"y":0.862},{"i":6,"x":3.594,"y":1.02},{"i":7,"x":3.4,"y":1.17},{"i":8,"x":3.179,"y":1.311},{"i":9,"x":2.934,"y":1.443},{"i":10,"x":2.668,"y":1.563},{"i":11,"x":2.38,"y":1.671},{"i":12,"x":2.075,"y":1.767},{"i":13,"x":1.754,"y":1.849},{"i":14,"x":1.419,"y":1.917},{"i":15,"x":1.074,"y":1.97},{"i":16,"x":0.72,"y":2.009},{"i":17,"x":0.362,"y":2.032},{"i":18,"x":0,"y":2.04},
{"i":19,"x":-0.362,"y":2.032},{"i":20,"x":-0.72,"y":2.009},{"i":21,"x":-1.074,"y":1.97},{"i":22,"x":-1.419,"y":1.917},{"i":23,"x":-1.754,"y":1.849},{"i":24,"x":-2.075,"y":1.767},{"i":25,"x":-2.38,"y":1.671},{"i":26,"x":-2.668,"y":1.563},{"i":27,"x":-2.934,"y":1.443},{"i":28,"x":-3.179,"y":1.311},{"i":29,"x":-3.4,"y":1.17},{"i":30,"x":-3.594,"y":1.02},{"i":31,"x":-3.761,"y":0.862},{"i":32,"x":-3.9,"y":0.698},{"i":33,"x":-4.008,"y":0.528},{"i":34,"x":-4.087,"y":0.354},{"i":35,"x":-4.134,"y":0.178},{"i":36,"x":-4.15,"y":0},
{"i":37,"x":-4.134,"y":-0.178},{"i":38,"x":-4.087,"y":-0.354},{"i":39,"x":-4.008,"y":-0.528},{"i":40,"x":-3.9,"y":-0.698},{"i":41,"x":-3.761,"y":-0.862},{"i":42,"x":-3.594,"y":-1.02},{"i":43,"x":-3.4,"y":-1.17},{"i":44,"x":-3.179,"y":-1.311},{"i":45,"x":-2.934,"y":-1.443},{"i":46,"x":-2.668,"y":-1.563},{"i":47,"x":-2.38,"y":-1.671},{"i":48,"x":-2.075,"y":-1.767},{"i":49,"x":-1.754,"y":-1.849},{"i":50,"x":-1.419,"y":-1.917},{"i":51,"x":-1.074,"y":-1.97},{"i":52,"x":-0.72,"y":-2.009},{"i":53,"x":-0.362,"y":-2.032},{"i":54,"x":0,"y":-2.04},
{"i":55,"x":0.362,"y":-2.032},{"i":56,"x":0.72,"y":-2.009},{"i":57,"x":1.074,"y":-1.97},{"i":58,"x":1.419,"y":-1.917},{"i":59,"x":1.754,"y":-1.849},{"i":60,"x":2.075,"y":-1.767},{"i":61,"x":2.38,"y":-1.671},{"i":62,"x":2.668,"y":-1.563},{"i":63,"x":2.934,"y":-1.443},{"i":64,"x":3.179,"y":-1.311},{"i":65,"x":3.4,"y":-1.17},{"i":66,"x":3.594,"y":-1.02},{"i":67,"x":3.761,"y":-0.862},{"i":68,"x":3.9,"y":-0.698},{"i":69,"x":4.008,"y":-0.528},{"i":70,"x":4.087,"y":-0.354},{"i":71,"x":4.134,"y":-0.178},{"i":72,"x":4.15,"y":0}
],
"zero": [{"x":-6,"y":0,"g":"h"},{"x":8,"y":0,"g":"h"},{"x":0,"y":-5,"g":"v"},{"x":0,"y":20,"g":"v"}],
"label": [{"x":1.98,"y":16.51,"t":"Eté 2009"}]
},
"encoding": {
 "x": {"field": "x", "type": "quantitative", "scale": {"domain": [-6, 8], "nice": false, "zero": false},
  "axis": {"values": [-6,-4,-2,0,2,4,6,8], "title": "Principal direction #1", "labelPadding": 35, "titleBaseline": "alphabetic", "titleY": 89, "titleX": 714}},
 "y": {"field": "y", "type": "quantitative", "scale": {"domain": [-5, 20], "nice": false, "zero": false},
  "axis": {"values": [-5,0,5,10,15,20], "title": "Principal direction #2", "labelPadding": 27, "titleBaseline": "alphabetic", "titleX": -69, "titleY": 291, "titleAlign": "center"}}
},
"layer": [
 {"data": {"name": "blue"}, "mark": {"type": "circle", "size": 56, "color": "#0072BD", "opacity": 1}},
 {"data": {"name": "red"}, "mark": {"type": "circle", "size": 56, "color": "#FF0000", "opacity": 1}},
 {"data": {"name": "ellipse"}, "mark": {"type": "line", "color": "#222222", "strokeWidth": 1.2}, "encoding": {"order": {"field": "i", "type": "quantitative"}}},
 {"data": {"name": "zero"}, "mark": {"type": "line", "color": "#262626", "strokeWidth": 1.3}, "encoding": {"detail": {"field": "g", "type": "nominal"}}},
 {"data": {"name": "label"}, "mark": {"type": "text", "font": "Open Sans", "fontSize": 41, "color": "#000000", "align": "center", "baseline": "alphabetic"}, "encoding": {"text": {"field": "t", "type": "nominal"}}}
]
}
